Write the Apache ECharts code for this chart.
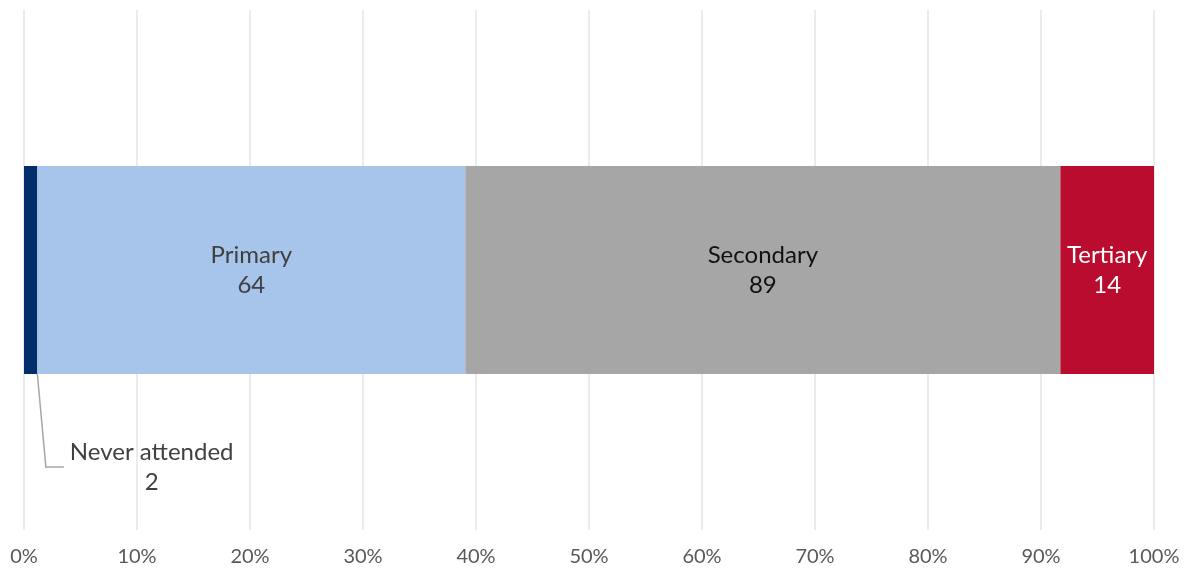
<!DOCTYPE html>
<html>
<head>
<meta charset="utf-8">
<script src="https://cdn.jsdelivr.net/npm/echarts@6/dist/echarts.min.js"></script>
<style>
  html, body { margin: 0; padding: 0; background: #fff; }
  #chart1 { width: 1185px; height: 571px; }
</style>
</head>
<body>
<div id="chart1"></div>
<script>
const categories = ['Never attended', 'Primary', 'Secondary', 'Tertiary'];
const counts = [2, 64, 89, 14];
const colors = ['#002F6C', '#A7C5EB', '#A6A6A6', '#BA0C2F'];
const labelColors = ['#404040', '#404040', '#111111', '#ffffff'];
const tickValues = [0, 10, 20, 30, 40, 50, 60, 70, 80, 90, 100];

const total = counts.reduce((a, b) => a + b, 0);
const fontName = 'Lato, "Open Sans", sans-serif';

const getOptionChart1 = () => {
  const series = categories.map((name, i) => {
    const s = {
      name: name,
      type: 'bar',
      stack: 'all',
      barWidth: 208,
      itemStyle: { color: colors[i] },
      data: [{ value: counts[i] / total * 100, raw: counts[i] }],
      label: {
        show: true,
        position: 'inside',
        color: labelColors[i],
        fontFamily: fontName,
        fontSize: 24,
        lineHeight: 30,
        formatter: (p) => p.seriesName + '\n' + p.data.raw
      },
      emphasis: { disabled: true }
    };
    if (i === 0) {
      // small slice: label pushed below the bar with a leader line
      s.label.position = 'bottom';
      s.label.distance = 4;
      s.label.padding = [0, 6];
      s.labelLayout = { dx: 121, dy: 59 };
      s.labelLine = { show: true, length2: 18, lineStyle: { color: '#A6A6A6', width: 1.5 } };
    }
    return s;
  });
  return {
    animation: false,
    grid: { left: 24, right: 31, top: 10, bottom: 41, containLabel: false },
    xAxis: {
      type: 'value',
      min: 0,
      max: 100,
      interval: 10,
      axisLine: { show: false },
      axisTick: { show: false },
      splitLine: { show: true, lineStyle: { color: '#EBEBEB', width: 2 } },
      axisLabel: {
        color: '#595959',
        fontFamily: fontName,
        fontSize: 20,
        margin: 17,
        formatter: (v) => tickValues.includes(v) ? v + '%' : ''
      }
    },
    yAxis: {
      type: 'category',
      data: [''],
      axisLine: { show: false },
      axisTick: { show: false },
      axisLabel: { show: false }
    },
    series: series
  };
};

const initChart = () => {
  const chart1 = echarts.init(document.getElementById('chart1'));
  chart1.setOption(getOptionChart1());
};

window.addEventListener('load', function() {
  initChart();
});
</script>
</body>
</html>
